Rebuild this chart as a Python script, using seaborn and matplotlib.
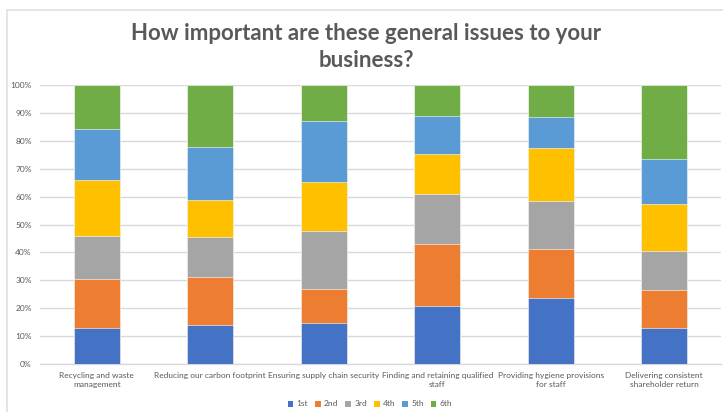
import matplotlib
matplotlib.use("Agg")
import matplotlib.pyplot as plt
from matplotlib.patches import Rectangle, Patch
import numpy as np
import pandas as pd
import seaborn as sns

categories = [
    "Recycling and waste\nmanagement",
    "Reducing our carbon footprint",
    "Ensuring supply chain security",
    "Finding and retaining qualified\nstaff",
    "Providing hygiene provisions\nfor staff",
    "Delivering consistent\nshareholder return",
]
ranks = ["1st", "2nd", "3rd", "4th", "5th", "6th"]

# Share of respondents (%) giving each rank, per issue
rank_1st = [13.0, 14.1, 14.7, 20.9, 23.8, 13.0]
rank_2nd = [17.5, 17.2, 12.1, 22.0, 17.3, 13.6]
rank_3rd = [15.5, 14.3, 21.0, 18.2, 17.2, 13.9]
rank_4th = [20.0, 13.2, 17.3, 14.0, 19.2, 16.7]
rank_5th = [18.1, 19.0, 22.1, 13.7, 10.9, 16.2]
rank_6th = [15.9, 22.2, 12.8, 11.2, 11.6, 26.6]

colors = ["#4472C4", "#ED7D31", "#A5A5A5", "#FFC000", "#5B9BD5", "#70AD47"]
text_color = "#595959"
grid_color = "#D9D9D9"

series = [rank_1st, rank_2nd, rank_3rd, rank_4th, rank_5th, rank_6th]
values = np.array(series, dtype=float)
shares = values / values.sum(axis=0) * 100
cumulative = np.cumsum(shares, axis=0)

sns.set_theme(style="white")
plt.rcParams["font.family"] = ["Lato", "DejaVu Sans"]

W, H = 723, 412
fig = plt.figure(figsize=(W / 100, H / 100), dpi=100)
ax = fig.add_axes([40 / W, 1 - 364 / H, (721 - 40) / W, (364 - 85) / H])

# Outer chart frame
fig.patches.append(Rectangle((7 / W, -0.1), 1.2, 1 - 10 / H + 0.1,
                             transform=fig.transFigure, fill=False,
                             edgecolor="#E2E1DA", linewidth=1.2, zorder=0))

# Stacked bars: draw cumulative totals from the top rank down
for i in reversed(range(len(ranks))):
    df = pd.DataFrame({"issue": categories, "value": cumulative[i]})
    sns.barplot(data=df, x="issue", y="value", color=colors[i],
                width=0.405, saturation=1, ax=ax, zorder=3,
                edgecolor="#FFFFFF", linewidth=0.4)

ax.set_ylim(0, 100)
ax.set_xlim(-0.5, len(categories) - 0.5)
ax.set_yticks(np.arange(0, 101, 10))
ax.set_yticklabels([f"{t}%" for t in range(0, 101, 10)])
ax.yaxis.grid(True, color=grid_color, linewidth=1, zorder=0)
ax.set_axisbelow(True)
for side in ["top", "right", "left"]:
    ax.spines[side].set_visible(False)
ax.spines["bottom"].set_color(grid_color)
ax.spines["bottom"].set_linewidth(1)
ax.tick_params(axis="both", length=0, colors=text_color, labelsize=6)
ax.tick_params(axis="y", pad=6)
ax.tick_params(axis="x", pad=6)
ax.set_xlabel("")
ax.set_ylabel("")
for lbl in ax.get_xticklabels():
    lbl.set_linespacing(1.35)

fig.text(366 / W, 1 - 47 / H, "How important are these general issues to your\nbusiness?",
         ha="center", va="center", fontsize=16, fontweight="bold",
         color=text_color, linespacing=1.4)

handles = [Patch(facecolor=c, edgecolor="none") for c in colors]
fig.legend(handles, ranks,
           loc="center", bbox_to_anchor=(370 / W, 1 - 404 / H),
           ncol=6, frameon=False, fontsize=6, handlelength=0.7,
           handleheight=0.7, handletextpad=0.4, columnspacing=0.8,
           labelcolor=text_color)

fig.savefig("out.png", dpi=100)
